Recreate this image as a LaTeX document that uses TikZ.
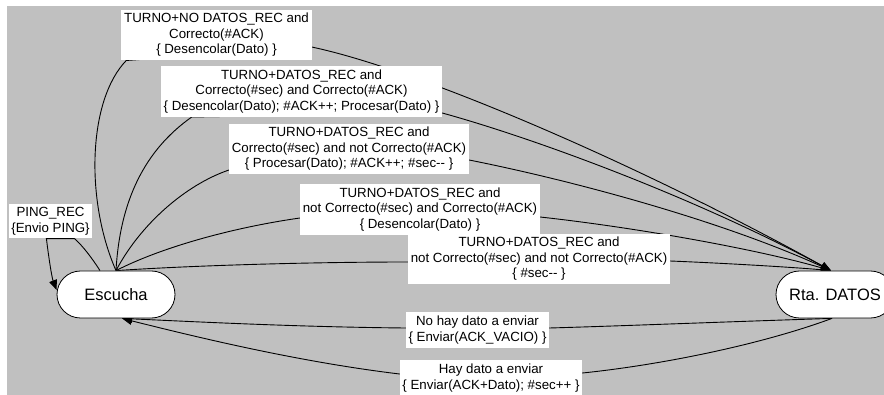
\documentclass[tikz,border=0pt]{standalone}
\usepackage{fontspec}
\setmainfont{Liberation Sans}
\usetikzlibrary{arrows.meta,calc}
\pgfdeclarelayer{back}
\pgfdeclarelayer{edges}
\pgfsetlayers{back,edges,main}
\definecolor{panel}{RGB}{192,192,192}
\newcommand{\dmin}{-\kern0pt-}
\tikzset{
  state/.style={draw=black, line width=0.8pt, fill=white, rounded corners=23.5pt,
    minimum width=118pt, minimum height=47pt, inner sep=0pt,
    font=\fontsize{16.5}{20}\selectfont},
  guard/.style={fill=white, align=center, inner xsep=2.7pt, inner ysep=3.6pt,
    font=\fontsize{13.3}{15.5}\selectfont},
  trans/.style={draw=black, line width=0.9pt},
  tip/.style={-{Triangle[length=10pt,width=8pt]}}
}
\begin{document}
\begin{tikzpicture}[x=1pt,y=-1pt]
\useasboundingbox (0,0) rectangle (884,395);
\begin{pgfonlayer}{back}
  \fill[panel] (7,6) rectangle (884,395);
\end{pgfonlayer}

% states
\node[state] (esc) at (116,294.5) {Escucha};
\node[state] (rta) at (835,294.5) {Rta. DATOS};

% transition labels
\node[guard] (l1) at (216.5,35) {TURNO+NO DATOS\_REC and\\Correcto(\#ACK)\\\{ Desencolar(Dato) \}};
\node[guard] (l2) at (301.5,91.5) {TURNO+DATOS\_REC and\\Correcto(\#sec) and Correcto(\#ACK)\\\{ Desencolar(Dato); \#ACK++; Procesar(Dato) \}};
\node[guard] (l3) at (349,149) {TURNO+DATOS\_REC and\\Correcto(\#sec) and not Correcto(\#ACK)\\\{ Procesar(Dato); \#ACK++; \#sec\dmin{} \}};
\node[guard] (l4) at (420,209.5) {TURNO+DATOS\_REC and\\not Correcto(\#sec) and Correcto(\#ACK)\\\{ Desencolar(Dato) \}};
\node[guard] (l5) at (539,259) {TURNO+DATOS\_REC and\\not Correcto(\#sec) and not Correcto(\#ACK)\\\{ \#sec\dmin{} \}};
\node[guard] (l6) at (477.5,330) {No hay dato a enviar\\\{ Enviar(ACK\_VACIO) \}};
\node[guard] (l7) at (491,378) {Hay dato a enviar\\\{ Enviar(ACK+Dato); \#sec++ \}};
\node[guard] (lp) at (50.5,221) {PING\_REC\\\{Envio PING\}};

\coordinate (rin) at ($(rta.north)+(-4,0)$);
\coordinate (rout) at ($(rta.south)+(-3,0)$);
\coordinate (ein) at ($(esc.south)+(6,0)$);

\begin{pgfonlayer}{edges}
  % Escucha -> Rta. DATOS
  \draw[trans,tip] (esc.north) .. controls (85,200) and (88,100) .. ($(l1.south west)+(5,0)$)
    -- ($(l1.east)+(0,12)$) .. controls (420,70) and (640,165) .. (rin);
  \draw[trans,tip] (esc.north) .. controls (120,200) and (145,150) .. ($(l2.south west)+(31,0)$)
    -- ($(l2.east)+(0,21.5)$) .. controls (540,140) and (700,200) .. (rin);
  \draw[trans,tip] (esc.north) .. controls (140,225) and (185,185) .. ($(l3.west)+(0,21)$)
    -- ($(l3.east)+(0,11)$) .. controls (570,180) and (720,220) .. (rin);
  \draw[trans,tip] (esc.north) .. controls (160,248) and (230,228) .. ($(l4.west)+(0,8.5)$)
    -- ($(l4.east)+(0,7.5)$) .. controls (640,228) and (760,250) .. (rin);
  \draw[trans,tip] (esc.north) .. controls (200,265) and (320,262) .. ($(l5.west)+(0,3)$)
    -- ($(l5.east)+(0,2)$) .. controls (720,263) and (790,267) .. (rin);
  % Rta. DATOS -> Escucha
  \draw[trans,tip] (rout) .. controls (720,322) and (620,326) .. ($(l6.east)+(0,-2)$)
    -- ($(l6.west)+(0,-2)$) .. controls (300,327) and (200,322) .. (ein);
  \draw[trans,tip] (rout) .. controls (760,345) and (660,365) .. ($(l7.east)+(0,-5)$)
    -- ($(l7.west)+(0,-4)$) .. controls (300,362) and (200,338) .. (ein);
  % Escucha self loop
  \draw[trans,tip] ($(esc.north)+(-16,0)$) .. controls (92,258) and (82,245) .. ($(lp.south west)+(66,0)$)
    -- ($(lp.south west)+(38,0)$) .. controls (49,260) and (52,278) .. ($(esc.west)+(0,-4.5)$);
\end{pgfonlayer}
\end{tikzpicture}
\end{document}
